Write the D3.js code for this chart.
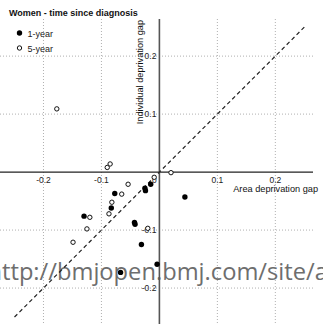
<!DOCTYPE html>
<html>
<head>
  <meta charset="utf-8">
  <title>Women - time since diagnosis</title>
  <style>
    body { margin: 0; background: #fff; }
    text { font-family: "Liberation Sans", Arial, Helvetica, sans-serif; }
  </style>
</head>
<body>
<script src="https://cdnjs.cloudflare.com/ajax/libs/d3/7.8.5/d3.min.js"></script>
<script>
// [area deprivation gap, individual deprivation gap]
const oneYear = [
  [-0.015, -0.021], [-0.025, -0.028], [-0.024, -0.032], [0.044, -0.043],
  [-0.077, -0.037], [-0.083, -0.062], [-0.130, -0.076], [-0.043, -0.087],
  [-0.042, -0.090], [-0.031, -0.125], [-0.004, -0.159], [-0.067, -0.173]
];
const fiveYear = [
  [-0.177, 0.109], [-0.090, 0.008], [-0.085, 0.014], [-0.054, -0.021],
  [-0.065, -0.038], [-0.082, -0.052], [-0.087, -0.072], [-0.120, -0.078],
  [-0.125, -0.098], [-0.149, -0.121], [-0.009, -0.009], [0.020, -0.001],
  [-0.020, -0.097]
];
const xTicks = [-0.2, -0.1, 0, 0.1, 0.2];
const yTicks = [-0.2, -0.1, 0.1, 0.2];
const seriesNames = ["1-year", "5-year"];

const width = 323, height = 324;

const svg = d3.select("body").append("svg")
  .attr("width", width)
  .attr("height", height);

const x = d3.scaleLinear().domain([-0.275, 0.265]).range([0, 313]);
const y = d3.scaleLinear().domain([-0.262, 0.264]).range([324, 19]);

// dotted grid
const grid = svg.append("g")
  .attr("stroke", "#b0b0b0")
  .attr("stroke-width", 1)
  .attr("stroke-dasharray", "1,2");
grid.selectAll(".gx").data(xTicks.filter(d => d !== 0)).enter().append("line")
  .attr("x1", d => x(d)).attr("x2", d => x(d))
  .attr("y1", y.range()[1]).attr("y2", y.range()[0]);
grid.selectAll(".gy").data(yTicks).enter().append("line")
  .attr("x1", x.range()[0]).attr("x2", x.range()[1])
  .attr("y1", d => y(d)).attr("y2", d => y(d));

// watermark, sized so "ttp://bmjopen.bmj.com/site/" runs from x=2 to x=315
const wm = svg.append("text")
  .attr("y", 280)
  .attr("fill", "#6e6e6e")
  .style("font-family", "'Open Sans', 'DejaVu Sans', sans-serif")
  .style("font-size", "20px")
  .text("http://bmjopen.bmj.com/site/about/guidelines.xhtml");
{
  const node = wm.node();
  const seg = node.getSubStringLength(1, 27);
  wm.style("font-size", (20 * 313 / seg) + "px");
  wm.attr("x", 2 - node.getSubStringLength(0, 1));
}

// axes lines
svg.append("line")
  .attr("x1", x.range()[0]).attr("x2", x.range()[1])
  .attr("y1", y(0)).attr("y2", y(0))
  .attr("stroke", "#222").attr("stroke-width", 1.3);
svg.append("line")
  .attr("x1", x(0)).attr("x2", x(0))
  .attr("y1", y.range()[1]).attr("y2", y.range()[0])
  .attr("stroke", "#555").attr("stroke-width", 1.6);

// y = x reference line
svg.append("line")
  .attr("x1", x(-0.25)).attr("y1", y(-0.25))
  .attr("x2", x(0.25)).attr("y2", y(0.25))
  .attr("stroke", "#222").attr("stroke-width", 1.2)
  .attr("stroke-dasharray", "4,3");

// tick labels
svg.selectAll(".xl").data(xTicks).enter().append("text")
  .attr("x", d => x(d) + (d === 0 ? -5 : 0))
  .attr("y", y(0) + 11)
  .attr("text-anchor", "middle")
  .style("font-size", "8.5px")
  .attr("fill", "#222")
  .text(d => d === 0 ? "0" : d3.format(".1f")(d).replace("−", "-"));
svg.selectAll(".yl").data(yTicks).enter().append("text")
  .attr("x", x(0) - 3)
  .attr("y", d => y(d) + 3)
  .attr("text-anchor", "end")
  .style("font-size", "8.5px")
  .attr("fill", "#222")
  .text(d => d3.format(".1f")(d).replace("−", "-"));

// axis titles
svg.append("text")
  .attr("x", 318).attr("y", y(0) + 19.5)
  .attr("text-anchor", "end")
  .style("font-size", "9.2px")
  .attr("fill", "#111")
  .text("Area deprivation gap");
svg.append("text")
  .attr("transform", `translate(${x(0) - 16},20) rotate(-90)`)
  .attr("text-anchor", "end")
  .style("font-size", "9.2px")
  .attr("fill", "#111")
  .text("Individual deprivation gap");

// points
svg.selectAll(".p5").data(fiveYear).enter().append("circle")
  .attr("cx", d => x(d[0])).attr("cy", d => y(d[1]))
  .attr("r", 2.2)
  .attr("fill", "#fff").attr("stroke", "#111").attr("stroke-width", 1);
svg.selectAll(".p1").data(oneYear).enter().append("circle")
  .attr("cx", d => x(d[0])).attr("cy", d => y(d[1]))
  .attr("r", 2.7)
  .attr("fill", "#000");

// title
svg.append("text")
  .attr("x", 9).attr("y", 15.5)
  .style("font-size", "9px")
  .style("font-weight", "bold")
  .attr("fill", "#111")
  .text("Women - time since diagnosis");

// legend
const lg = svg.append("g");
lg.selectAll("circle").data(seriesNames).enter().append("circle")
  .attr("cx", 19.5).attr("cy", (d, i) => 33 + i * 15)
  .attr("r", (d, i) => i === 0 ? 2.7 : 2.2)
  .attr("fill", (d, i) => i === 0 ? "#000" : "#fff")
  .attr("stroke", (d, i) => i === 0 ? "none" : "#111");
lg.selectAll("text").data(seriesNames).enter().append("text")
  .attr("x", 27.5).attr("y", (d, i) => 36.5 + i * 15)
  .style("font-size", "9px")
  .attr("fill", "#222")
  .text(d => d);
</script>
</body>
</html>
